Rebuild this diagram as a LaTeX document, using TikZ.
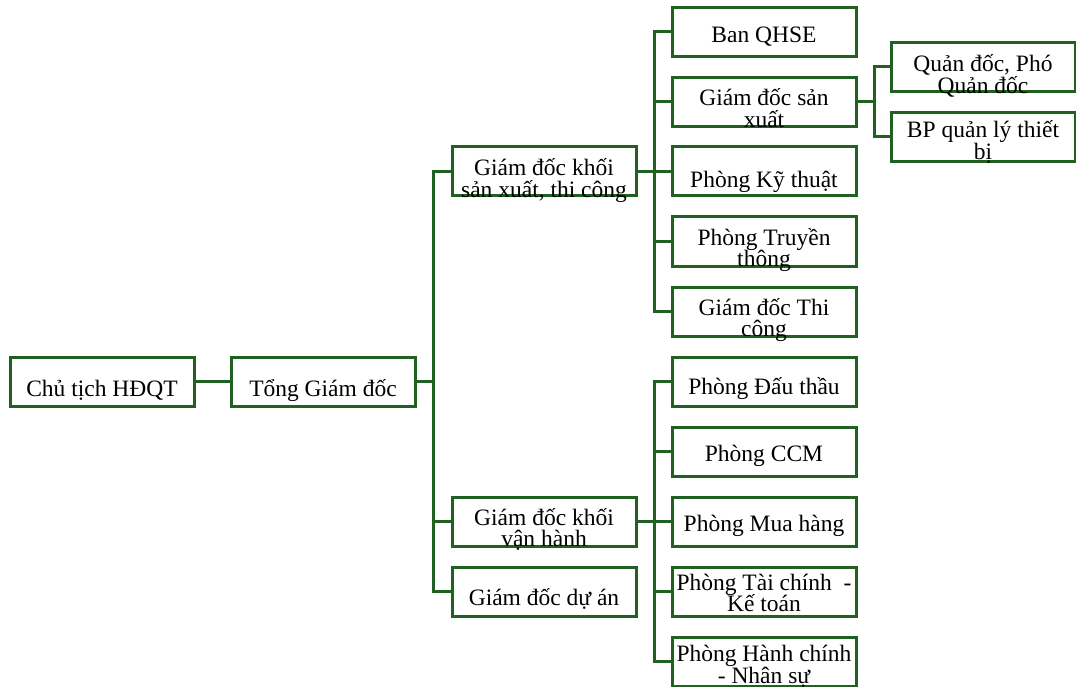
\documentclass[tikz,border=0pt]{standalone}
\usepackage{fontspec}
\setmainfont{Liberation Serif}
\usetikzlibrary{positioning,calc}
\definecolor{orggreen}{RGB}{33,96,33}
\newcommand{\twoline}[2]{\vtop{\lineskiplimit=-50pt\baselineskip=21.5pt\halign{\hfil##\hfil\cr #1\cr #2\cr}}}

\begin{document}
\begin{tikzpicture}[
    x=1pt, y=-1pt,
    orgbox/.style={draw=orggreen, line width=3pt, minimum width=184pt, minimum height=49pt, inner sep=0pt, font=\fontsize{23.5}{20}\selectfont},
    txtoff/.code={\pgfmathsetmacro\bxh{24.5+#1}\pgfmathsetmacro\bxd{24.5-#1}\pgfkeysalso{text height=\bxh pt, text depth=\bxd pt}},
    link/.style={draw=orggreen, line width=3pt}
]
\useasboundingbox (0,0) rectangle (1076,687);

% Top of the chart
\node[orgbox, txtoff=15] (chair) at (102,381.5) {Chủ tịch HĐQT};
\node[orgbox, txtoff=15] (ceo) at (323,381.5) {Tổng Giám đốc};

% Block directors
\node[orgbox, txtoff=4.5] (prodblock) at (544,171.5) {\twoline{Giám đốc khối}{sản xuất, thi công}};
\node[orgbox, txtoff=3.5] (opsblock) at (544,521.5) {\twoline{Giám đốc khối}{vận hành}};
\node[orgbox, txtoff=13.5] (project) at (544,591.5) {Giám đốc dự án};

% Departments under production block
\node[orgbox, txtoff=11] (qhse) at (764,32) {Ban QHSE};
\node[orgbox, txtoff=4] (prod) at (764,102) {\twoline{Giám đốc sản}{xuất}};
\node[orgbox, txtoff=16] (tech) at (764,171.5) {Phòng Kỹ thuật};
\node[orgbox, txtoff=3.5] (comm) at (764,241.5) {\twoline{Phòng Truyền}{thông}};
\node[orgbox, txtoff=3.5] (constr) at (764,311.5) {\twoline{Giám đốc Thi}{công}};

% Departments under operations block
\node[orgbox, txtoff=13] (bid) at (764,381.5) {Phòng Đấu thầu};
\node[orgbox, txtoff=10] (ccm) at (764,451.5) {Phòng CCM};
\node[orgbox, txtoff=10] (purch) at (764,521.5) {Phòng Mua hàng};
\node[orgbox, txtoff=-1.5] (fin) at (764,591.5) {\twoline{Phòng Tài chính~ -}{Kế toán}};
\node[orgbox, txtoff=0] (hr) at (764,661.5) {\twoline{Phòng Hành chính}{- Nhân sự}};

% Under production director
\node[orgbox, txtoff=5] (foreman) at (983,67) {\twoline{Quản đốc, Phó}{Quản đốc}};
\node[orgbox, txtoff=1] (equip) at (983,137) {\twoline{BP quản lý thiết}{bị}};

% Junctions
\coordinate (jceo) at ($(ceo.east)+(17,0)$);
\coordinate (jprodblock) at ($(prodblock.east)+(17,0)$);
\coordinate (jopsblock) at ($(opsblock.east)+(17,0)$);
\coordinate (jprod) at ($(prod.east)+(17,0)$);

% Connectors
\draw[link] (chair) -- (ceo);
\draw[link] (ceo.east) -- (jceo);
\foreach \n in {prodblock,opsblock,project}
    \draw[link] (jceo) |- (\n.west);
\draw[link] (prodblock.east) -- (jprodblock);
\foreach \n in {qhse,prod,tech,comm,constr}
    \draw[link] (jprodblock) |- (\n.west);
\draw[link] (opsblock.east) -- (jopsblock);
\foreach \n in {bid,ccm,purch,fin,hr}
    \draw[link] (jopsblock) |- (\n.west);
\draw[link] (prod.east) -- (jprod);
\foreach \n in {foreman,equip}
    \draw[link] (jprod) |- (\n.west);

\end{tikzpicture}
\end{document}
